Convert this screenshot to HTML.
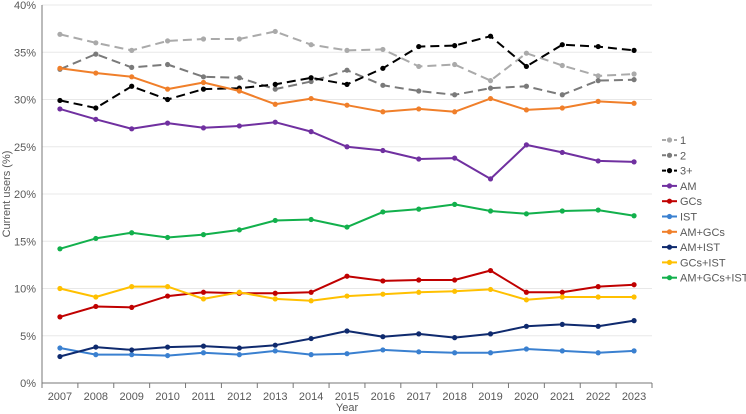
<!DOCTYPE html>
<html><head><meta charset="utf-8"><style>
html,body{margin:0;padding:0;background:#fff;}
svg{display:block;font-family:"Liberation Sans",sans-serif;}
</style></head><body>
<svg id="chart" width="746" height="414" viewBox="0 0 746 414"></svg>
<script>
const years=["2007","2008","2009","2010","2011","2012","2013","2014","2015","2016","2017","2018","2019","2020","2021","2022","2023"];
const yTicks=[0,5,10,15,20,25,30,35,40];
const s1=[36.9,36.0,35.2,36.2,36.4,36.4,37.2,35.8,35.2,35.3,33.5,33.7,32.0,34.9,33.6,32.5,32.7];
const s2=[33.2,34.8,33.4,33.7,32.4,32.3,31.1,31.9,33.1,31.5,30.9,30.5,31.2,31.4,30.5,32.0,32.1];
const s3=[29.9,29.1,31.4,30.0,31.1,31.2,31.6,32.3,31.6,33.3,35.6,35.7,36.7,33.5,35.8,35.6,35.2];
const sAM=[29.0,27.9,26.9,27.5,27.0,27.2,27.6,26.6,25.0,24.6,23.7,23.8,21.6,25.2,24.4,23.5,23.4];
const sGC=[7.0,8.1,8.0,9.2,9.6,9.5,9.5,9.6,11.3,10.8,10.9,10.9,11.9,9.6,9.6,10.2,10.4];
const sIST=[3.7,3.0,3.0,2.9,3.2,3.0,3.4,3.0,3.1,3.5,3.3,3.2,3.2,3.6,3.4,3.2,3.4];
const sAMGC=[33.3,32.8,32.4,31.1,31.8,30.9,29.5,30.1,29.4,28.7,29.0,28.7,30.1,28.9,29.1,29.8,29.6];
const sAMIST=[2.8,3.8,3.5,3.8,3.9,3.7,4.0,4.7,5.5,4.9,5.2,4.8,5.2,6.0,6.2,6.0,6.6];
const sGCIST=[10.0,9.1,10.2,10.2,8.9,9.6,8.9,8.7,9.2,9.4,9.6,9.7,9.9,8.8,9.1,9.1,9.1];
const sAll=[14.2,15.3,15.9,15.4,15.7,16.2,17.2,17.3,16.5,18.1,18.4,18.9,18.2,17.9,18.2,18.3,17.7];
const series=[
 {n:"1",d:s1,c:"#aaaaaa",dash:"9,5"},
 {n:"2",d:s2,c:"#7a7a7a",dash:"9,5"},
 {n:"3+",d:s3,c:"#000000",dash:"9,5"},
 {n:"AM",d:sAM,c:"#7030a0"},
 {n:"GCs",d:sGC,c:"#c00000"},
 {n:"IST",d:sIST,c:"#3a80d0"},
 {n:"AM+GCs",d:sAMGC,c:"#f07f2a"},
 {n:"AM+IST",d:sAMIST,c:"#0f2a6e"},
 {n:"GCs+IST",d:sGCIST,c:"#ffc000"},
 {n:"AM+GCs+IST",d:sAll,c:"#12b04c"}
];
const NS="http://www.w3.org/2000/svg";
const svg=document.getElementById('chart');
const L=42,R=652,T=5,B=383;
const bw=(R-L)/years.length;
const x=i=>L+bw*(i+0.5);
const y=v=>B-(v/40)*(B-T);
function mk(t,a,p){const e=document.createElementNS(NS,t);for(const k in a)e.setAttribute(k,a[k]);(p||svg).appendChild(e);return e;}
yTicks.forEach(v=>{
 const g=mk('line',{x1:L,x2:R,y1:y(v),y2:y(v),stroke:v===0?'#fff':'#e8e8e8','stroke-width':1});
 
 
 const t=mk('text',{x:L-6,y:y(v)+4,'text-anchor':'end','font-size':11,fill:'#595959'});
 t.textContent=v+'%';
 
 
});
const ya=mk('line',{x1:L,x2:L,y1:T,y2:B,stroke:'#777'});


const xa=mk('line',{x1:L,x2:R,y1:B,y2:B,stroke:'#777'});


for(let i=0;i<=years.length;i++){
 const tk=mk('line',{x1:L+bw*i,x2:L+bw*i,y1:B,y2:B+5,stroke:'#777'});
 
 
}
years.forEach((yr,i)=>{
 const t=mk('text',{x:x(i),y:B+17,'text-anchor':'middle','font-size':11,fill:'#595959'});
 t.textContent=yr;
 
 
});
const xt=mk('text',{x:(L+R)/2,y:411,'text-anchor':'middle','font-size':11,fill:'#595959'});
xt.textContent='Year';


const yt=mk('text',{x:0,y:0,'text-anchor':'middle','font-size':11,fill:'#595959',transform:'translate(10,'+((T+B)/2)+') rotate(-90)'});
yt.textContent='Current users (%)';


series.forEach((s,k)=>{
 const g=mk('g',{});
 
 
 const pts=s.d.map((v,i)=>x(i).toFixed(1)+','+y(v).toFixed(1)).join(' ');
 const a={points:pts,fill:'none',stroke:s.c,'stroke-width':2,'stroke-linejoin':'round'};
 if(s.dash)a['stroke-dasharray']=s.dash;
 mk('polyline',a,g);
 s.d.forEach((v,i)=>{
  const c=mk('circle',{cx:x(i),cy:y(v),r:2.6,fill:s.c},g);
  
  
 });
 const ly=140+k*15.3;
 const lg=mk('g',{},svg);
 
 
 const ll={x1:662,x2:677,y1:ly,y2:ly,stroke:s.c,'stroke-width':2};
 if(s.dash)ll['stroke-dasharray']='4,2';
 mk('line',ll,lg);
 mk('circle',{cx:669.5,cy:ly,r:2.6,fill:s.c},lg);
 const t=mk('text',{x:680,y:ly+4,'font-size':11,fill:'#595959'},lg);
 t.textContent=s.n;
});
</script>
</body></html>
